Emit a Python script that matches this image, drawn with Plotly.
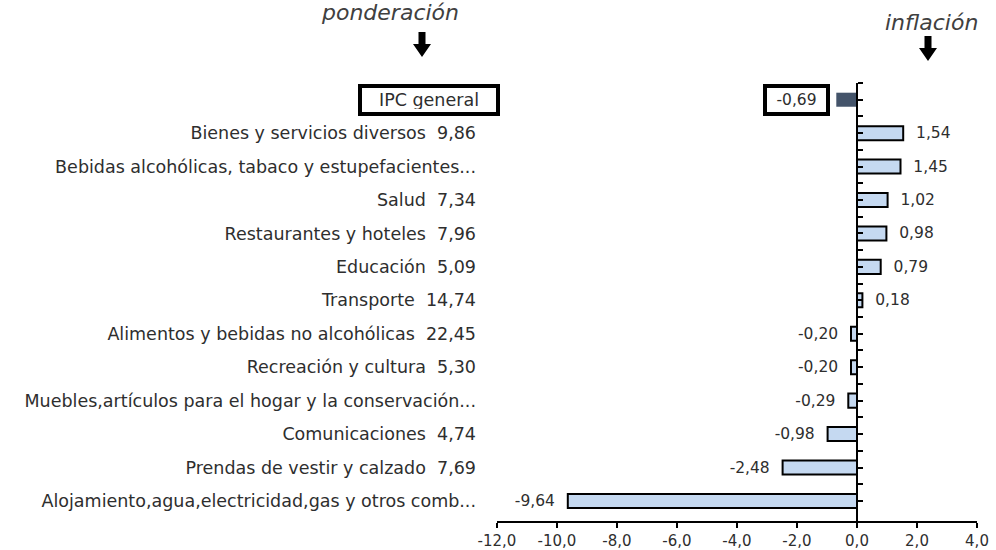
import plotly.graph_objects as go

categories = [
    "IPC general",
    "Bienes y servicios diversos  9,86",
    "Bebidas alcohólicas, tabaco y estupefacientes...",
    "Salud  7,34",
    "Restaurantes y hoteles  7,96",
    "Educación  5,09",
    "Transporte  14,74",
    "Alimentos y bebidas no alcohólicas  22,45",
    "Recreación y cultura  5,30",
    "Muebles,artículos para el hogar y la conservación...",
    "Comunicaciones  4,74",
    "Prendas de vestir y calzado  7,69",
    "Alojamiento,agua,electricidad,gas y otros comb...",
]
inflation = [-0.69, 1.54, 1.45, 1.02, 0.98, 0.79, 0.18, -0.20, -0.20, -0.29, -0.98, -2.48, -9.64]
x_ticks = [-12, -10, -8, -6, -4, -2, 0, 2, 4]

W, H = 996, 550
L, R, T, B = 497, 19, 83, 29
FONT = "DejaVu Sans"
TXT = "#2e2e2e"
FS_LAB = 17.5
FS_VAL = 15.5
FS_TICK = 15


def fmt(v, d=2):
    return f"{v:.{d}f}".replace(".", ",")


def pxx(px):
    return (px - L) / (W - L - R)


def pxy(py):
    return (H - B - py) / (H - T - B)


n = len(categories)
ypos = [n - 1 - i for i in range(n)]  # top category at top

sub_cats = categories[1:]
sub_vals = inflation[1:]
sub_y = ypos[1:]
texts = [("\u00a0\u00a0" + fmt(v)) if v >= 0 else (fmt(v) + "\u00a0\u00a0") for v in sub_vals]

fig = go.Figure()
fig.add_trace(go.Bar(
    x=sub_vals, y=sub_y, orientation="h",
    marker=dict(color="#c5d9f1", line=dict(color="black", width=2)),
    text=texts, textposition="outside", constraintext="none", cliponaxis=False,
    textfont=dict(family=FONT, size=FS_VAL, color=TXT),
    width=0.42, showlegend=False, hoverinfo="skip",
))
fig.add_trace(go.Bar(
    x=inflation[:1], y=ypos[:1], orientation="h",
    marker=dict(color="#44546a", line=dict(width=0)),
    width=0.42, showlegend=False, hoverinfo="skip",
))
# invisible helper for the zero axis with ticks
fig.add_trace(go.Scatter(x=[0], y=[0], yaxis="y2", mode="markers",
                         marker=dict(opacity=0), showlegend=False, hoverinfo="skip"))

fig.update_layout(
    width=W, height=H,
    margin=dict(l=L, r=R, t=T, b=B, pad=0, autoexpand=False),
    plot_bgcolor="white", paper_bgcolor="white",
    font=dict(family=FONT, size=FS_LAB, color=TXT),
    xaxis=dict(range=[-12, 4], tickvals=x_ticks, ticktext=[fmt(v, 1) for v in x_ticks],
               automargin=False,
               showgrid=False, zeroline=False, showline=True, linecolor="black",
               linewidth=2, ticks="outside", ticklen=5, tickwidth=2, tickcolor="black",
               tickfont=dict(family=FONT, size=FS_TICK, color=TXT)),
    yaxis=dict(range=[-0.6, n - 0.5], tickvals=ypos, ticktext=[""] + sub_cats,
               showgrid=False, zeroline=False, showline=False, ticks="", automargin=False,
               ticklabelstandoff=20,
               tickfont=dict(family=FONT, size=FS_LAB, color=TXT)),
    yaxis2=dict(range=[-0.6, n - 0.5], overlaying="y", anchor="free", position=0.75,
                side="right", showgrid=False, zeroline=False, showline=True, automargin=False,
                linecolor="black", linewidth=2, ticks="outside", ticklen=5,
                tickwidth=2, tickcolor="black", showticklabels=False,
                tickvals=[k * 0.5 for k in range(0, 2 * n)]),
    bargap=0.58,
)

ann = []
# boxed IPC general label
ann.append(dict(xref="paper", yref="y", x=pxx(429), y=ypos[0], text="IPC general",
                showarrow=False, font=dict(family=FONT, size=FS_LAB, color=TXT),
                bordercolor="black", borderwidth=4, borderpad=3, bgcolor="white",
                xanchor="center", yanchor="middle", width=128, height=18))
# boxed IPC value
ann.append(dict(xref="x", yref="y", x=inflation[0], y=ypos[0], text=fmt(inflation[0]),
                showarrow=False, font=dict(family=FONT, size=FS_VAL, color=TXT),
                bordercolor="black", borderwidth=4, borderpad=3, bgcolor="white",
                xanchor="right", yanchor="middle", xshift=-6, width=53, height=18))
# headers
ann.append(dict(xref="paper", yref="paper", x=pxx(390), y=pxy(12), text="<i>ponderación</i>",
                showarrow=False, font=dict(family=FONT, size=22, color="#404040"),
                xanchor="center", yanchor="middle"))
ann.append(dict(xref="paper", yref="paper", x=pxx(931), y=pxy(22), text="<i>inflación</i>",
                showarrow=False, font=dict(family=FONT, size=22, color="#404040"),
                xanchor="center", yanchor="middle"))
fig.update_layout(annotations=ann)

# header arrows drawn as filled paths
shapes = []
for cx, top, bot in [(422, 32, 57), (928, 36, 61)]:
    mid = top + 12
    pts = [(cx - 3.5, top), (cx + 3.5, top), (cx + 3.5, mid), (cx + 9, mid),
           (cx, bot), (cx - 9, mid), (cx - 3.5, mid)]
    path = "M " + " L ".join(f"{pxx(a):.5f},{pxy(b):.5f}" for a, b in pts) + " Z"
    shapes.append(dict(type="path", xref="paper", yref="paper", path=path,
                       fillcolor="black", line=dict(width=0)))
fig.update_layout(shapes=shapes)

fig.write_html("out.html", config={"displayModeBar": False},
               post_script="document.body.style.margin='0px';document.body.style.overflow='hidden';")
